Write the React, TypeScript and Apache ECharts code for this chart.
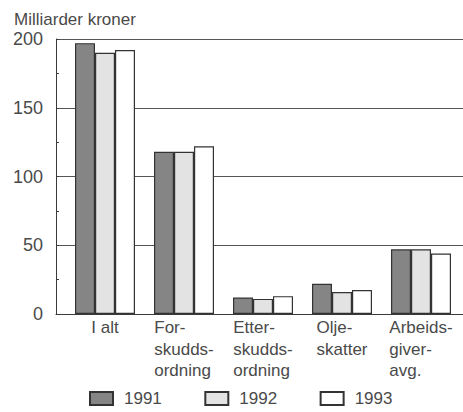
import React, { useEffect, useRef } from "react";
import * as echarts from "echarts";

const categories = [
  "I alt",
  "For-\nskudds-\nordning",
  "Etter-\nskudds-\nordning",
  "Olje-\nskatter",
  "Arbeids-\ngiver-\navg.",
];
const years = ["1991", "1992", "1993"];
const values1991 = [197, 118, 12, 22, 47];
const values1992 = [190, 118, 11, 16, 47];
const values1993 = [192, 122, 13, 17.5, 44];
const yMin = 0;
const yMax = 200;
const yInterval = 50;
const unitTitle = "Milliarder kroner";

const FONT = '"Liberation Sans", Arial, Helvetica, sans-serif';
const TEXT = "#4a4a4a";
const LINE = "#3a3a3a";

export default function App() {
  const ref = useRef<HTMLDivElement>(null);
  useEffect(() => {
    if (!ref.current) return;
    const chart = echarts.init(ref.current, undefined, { renderer: "svg" });
    const colors = ["#858585", "#e3e3e3", "#ffffff"];
    const seriesValues = [values1991, values1992, values1993];
    chart.setOption({
      animation: false,
      backgroundColor: "#ffffff",
      textStyle: { fontFamily: FONT },
      title: {
        text: unitTitle,
        left: 14,
        top: 10,
        padding: 0,
        textStyle: { fontFamily: FONT, fontSize: 17, fontWeight: "normal", color: TEXT, lineHeight: 18 },
      },
      grid: [
        { left: 56, right: 0, top: 39, height: 275 },
        { left: 65.5, right: 2.5, top: 39, height: 275 },
      ],
      xAxis: [
        {
          type: "value",
          gridIndex: 0,
          min: 0,
          max: 1,
          axisLine: { show: true, onZero: false, lineStyle: { color: LINE, width: 1 } },
          axisTick: { show: false },
          axisLabel: { show: false },
          splitLine: { show: false },
        },
        {
          type: "category",
          gridIndex: 1,
          data: categories,
          axisLine: { show: false },
          axisTick: { show: false },
          axisLabel: {
            margin: 3,
            color: TEXT,
            fontSize: 17,
            fontFamily: FONT,
            align: "center",
            verticalAlign: "top",
            interval: 0,
            formatter: (v: string) =>
              v.split("\n").map((s) => `{l|${s}}`).join("\n"),
            rich: {
              l: {
                align: "left",
                fontSize: 17,
                fontFamily: FONT,
                color: TEXT,
                lineHeight: 21.5,
              },
            },
          },
        },
      ],
      yAxis: [
        {
          type: "value",
          gridIndex: 0,
          min: yMin,
          max: yMax,
          interval: yInterval,
          axisLine: { show: true, lineStyle: { color: LINE, width: 1 } },
          axisTick: { show: true, inside: true, length: 3, lineStyle: { color: LINE } },
          minorTick: { show: true, splitNumber: 2, length: 3, lineStyle: { color: LINE } },
          axisLabel: { margin: 13, color: TEXT, fontSize: 18, fontFamily: FONT },
          splitLine: { show: true, lineStyle: { color: "#555555", width: 1 } },
        },
        {
          type: "value",
          gridIndex: 1,
          min: yMin,
          max: yMax,
          interval: yInterval,
          show: false,
        },
      ],
      legend: {
        left: 89,
        top: 390,
        padding: 0,
        itemWidth: 23,
        itemHeight: 13,
        itemGap: 42.5,
        icon: "rect",
        data: years,
        textStyle: {
          color: TEXT,
          fontSize: 17,
          fontFamily: FONT,
          padding: [0, 0, 0, 6],
        },
      },
      series: years.map((y, i) => ({
        name: y,
        type: "bar",
        xAxisIndex: 1,
        yAxisIndex: 1,
        data: seriesValues[i],
        barWidth: 20,
        barGap: "0%",
        itemStyle: { color: colors[i], borderColor: "#333333", borderWidth: 1.2 },
      })),
    });
    return () => chart.dispose();
  }, []);
  return (
    <div
      ref={ref}
      style={{ position: "fixed", left: 0, top: 0, width: 463, height: 412, background: "#fff" }}
    />
  );
}
